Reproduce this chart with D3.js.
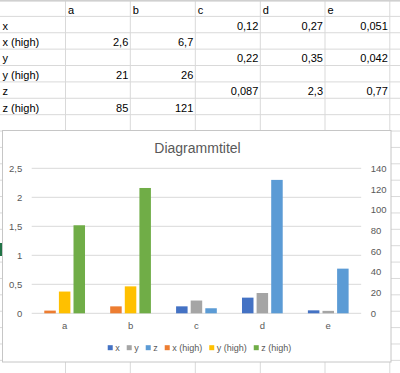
<!DOCTYPE html>
<html><head><meta charset="utf-8">
<script src="https://cdn.jsdelivr.net/npm/d3@7"></script>
<style>
html,body{margin:0;padding:0;background:#fff;}
svg{display:block;}
text{font-family:"Liberation Sans",Arial,sans-serif;}
</style></head>
<body>
<svg id="c" width="400" height="373"></svg>
<script>
// ---- data ----
const categories = ["a","b","c","d","e"];
const seriesNames = ["x","x (high)","y","y (high)","z","z (high)"];
const xVals     = [null, null, 0.12, 0.27, 0.051];
const xHighVals = [2.6, 6.7, null, null, null];
const yVals     = [null, null, 0.22, 0.35, 0.042];
const yHighVals = [21, 26, null, null, null];
const zVals     = [null, null, 0.087, 2.3, 0.77];
const zHighVals = [85, 121, null, null, null];
const leftTicks  = [0, 0.5, 1, 1.5, 2, 2.5];
const rightTicks = [0, 20, 40, 60, 80, 100, 120, 140];
const chartTitle = "Diagrammtitel";

const tableRows = [
  {name:"x", vals:xVals}, {name:"x (high)", vals:xHighVals},
  {name:"y", vals:yVals}, {name:"y (high)", vals:yHighVals},
  {name:"z", vals:zVals}, {name:"z (high)", vals:zHighVals}
];
const primary = [
  {name:"x", vals:xVals, color:"#4472C4"},
  {name:"y", vals:yVals, color:"#A5A5A5"},
  {name:"z", vals:zVals, color:"#5B9BD5"}
];
const secondary = [
  {name:"x (high)", vals:xHighVals, color:"#ED7D31"},
  {name:"y (high)", vals:yHighVals, color:"#FFC000"},
  {name:"z (high)", vals:zHighVals, color:"#70AD47"}
];
const fmt = v => String(v).replace(".", ",");

const svg = d3.select("#c");

// ---- spreadsheet grid ----
const colX = [0, 65.5, 130.3, 195.3, 260.3, 325, 389.8];
const rowH = 16.38;
const grid = svg.append("g");
for (let k = 1; k < 24; k++) {
  grid.append("line").attr("x1",0).attr("x2",400)
    .attr("y1", k*rowH).attr("y2", k*rowH)
    .attr("stroke","#d9d9d9").attr("stroke-width",1);
}
colX.slice(1).forEach(x => grid.append("line").attr("x1",x).attr("x2",x)
  .attr("y1",0).attr("y2",373).attr("stroke","#d9d9d9").attr("stroke-width",1));
grid.append("rect").attr("x",0).attr("y",0).attr("width",400).attr("height",1.6).attr("fill","#d0d0d0");

// header row
categories.forEach((c,i) => {
  grid.append("text").attr("x", colX[i+1]+2.5).attr("y", 13.5)
    .attr("font-size", 11).attr("fill","#000").text(c);
});
tableRows.forEach((r, ri) => {
  const top = (ri+1)*rowH;
  grid.append("text").attr("x", 2.5).attr("y", top+13.3)
    .attr("font-size", 11).attr("fill","#000").text(r.name);
  r.vals.forEach((v, ci) => {
    if (v == null) return;
    grid.append("text").attr("x", colX[ci+2]-2).attr("y", top+13.3)
      .attr("text-anchor","end").attr("font-size", 11).attr("fill","#000").text(fmt(v));
  });
});
// selected-cell marker
grid.append("rect").attr("x",0).attr("y",243).attr("width",2).attr("height",13).attr("fill","#217346");

// ---- chart ----
const ch = svg.append("g");
ch.append("rect").attr("x",2.5).attr("y",130.5).attr("width",388.5).attr("height",231.5)
  .attr("fill","#fff").attr("stroke","#c6c6c6").attr("stroke-width",1);

ch.append("text").attr("x", 197.5).attr("y", 153)
  .attr("text-anchor","middle").attr("font-size", 14).attr("fill","#595959").text(chartTitle);

const plotL = 31.7, plotR = 361.2, plotT = 168.3, plotB = 313.3;
const x0 = d3.scaleBand().domain(categories).range([plotL, plotR])
  .paddingInner(0.382).paddingOuter(0.191);
const x1 = d3.scaleBand().domain([0,1,2]).range([0, x0.bandwidth()])
  .paddingInner(0.2126).paddingOuter(0);
const yL = d3.scaleLinear().domain([0, 2.5]).range([plotB, plotT]);
const yR = d3.scaleLinear().domain([0, 140]).range([plotB, plotT]);

// gridlines
ch.append("g").selectAll("line").data(leftTicks).join("line")
  .attr("x1", plotL).attr("x2", plotR)
  .attr("y1", d => yL(d)).attr("y2", d => yL(d))
  .attr("stroke","#d9d9d9").attr("stroke-width",1);

// left axis
const axL = ch.append("g").attr("transform",`translate(${plotL},0)`)
  .call(d3.axisLeft(yL).tickValues(leftTicks).tickSize(0).tickPadding(9.4).tickFormat(fmt));
axL.select(".domain").remove();
axL.selectAll("text").attr("font-size",9.5).attr("fill","#595959")
  .attr("font-family","Liberation Sans, Arial, sans-serif");

// right axis
const axR = ch.append("g").attr("transform",`translate(${plotR},0)`)
  .call(d3.axisRight(yR).tickValues(rightTicks).tickSize(0).tickPadding(9.5));
axR.select(".domain").remove();
axR.selectAll("text").attr("font-size",9.5).attr("fill","#595959")
  .attr("font-family","Liberation Sans, Arial, sans-serif");

// bottom axis
const axB = ch.append("g").attr("transform",`translate(0,${plotB})`)
  .call(d3.axisBottom(x0).tickSize(0).tickPadding(9));
axB.select(".domain").remove();
axB.selectAll("text").attr("font-size",9.5).attr("fill","#595959")
  .attr("font-family","Liberation Sans, Arial, sans-serif");

// bars
function drawSeries(list, yS) {
  list.forEach((s, si) => {
    const data = categories.map((c, i) => ({c, v: s.vals[i]})).filter(d => d.v != null);
    ch.append("g").selectAll("rect").data(data).join("rect")
      .attr("x", d => x0(d.c) + x1(si))
      .attr("width", x1.bandwidth())
      .attr("y", d => yS(d.v))
      .attr("height", d => plotB - yS(d.v))
      .attr("fill", s.color);
  });
}
drawSeries(secondary, yR);
drawSeries(primary, yL);

// legend
const legendItems = [...primary, ...secondary];
const lg = ch.append("g");
const items = lg.selectAll("g").data(legendItems).join("g");
items.append("rect").attr("width",5).attr("height",5).attr("y",345.2).attr("fill", d => d.color);
items.append("text").attr("x",7.5).attr("y",350.8).attr("font-size",9).attr("fill","#595959").text(d => d.name);
let cx = 0;
const pos = [];
items.each(function(d){ const w = this.querySelector("text").getComputedTextLength(); pos.push(cx); cx += 7.5 + w + 7; });
const total = cx - 7;
const startX = 199.5 - total/2;
items.attr("transform", (d,i) => `translate(${startX + pos[i]},0)`);
</script>
</body></html>
